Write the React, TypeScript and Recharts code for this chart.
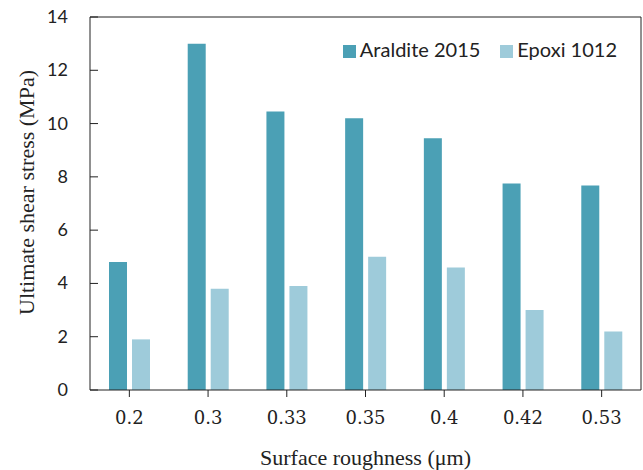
import React from 'react';
import { BarChart, Bar, XAxis, YAxis, Legend } from 'recharts';

const roughness = ['0.2', '0.3', '0.33', '0.35', '0.4', '0.42', '0.53'];
const araldite = [4.8, 13.0, 10.45, 10.2, 9.45, 7.75, 7.68];
const epoxi = [1.9, 3.8, 3.9, 5.0, 4.6, 3.0, 2.2];
const yTicks = [0, 2, 4, 6, 8, 10, 12, 14];

const data = roughness.map((r, i) => ({
  name: r,
  'Araldite 2015': araldite[i],
  'Epoxi 1012': epoxi[i],
}));

const INK = '#222';
const SERIF = '"Liberation Serif", "Times New Roman", serif';
// the top legend reserves its own height, so the top margin is reduced by it
const LEGEND_H = 24;

const YTick = (props: any) => {
  const { x, y, payload } = props;
  // tick line points into the plot
  return (
    <g>
      <line x1={x + 22} x2={x + 30} y1={y} y2={y} stroke={INK} strokeWidth={1} />
      <text x={x} y={y} dy={6} textAnchor="end" fill={INK} fontSize={18} fontFamily="Lato, sans-serif">
        {payload.value}
      </text>
    </g>
  );
};

const YTitle = (props: any) => {
  const { viewBox } = props;
  const cx = viewBox.x + 34;
  const cy = viewBox.y + viewBox.height / 2 - 11;
  return (
    <text x={cx} y={cy} transform={`rotate(-90, ${cx}, ${cy})`} textAnchor="middle" fill={INK} fontSize={22} fontFamily={SERIF}>
      Ultimate shear stress (MPa)
    </text>
  );
};

const App = () => (
  <div style={{ position: 'absolute', left: 0, top: 0, background: '#fff' }}>
    <BarChart
      width={643}
      height={470}
      data={data}
      margin={{ top: 16 - LEGEND_H, right: 1, left: 0, bottom: 0 }}
      barSize={18}
      barGap={5}
    >
      <XAxis
        dataKey="name"
        height={80}
        tickSize={7}
        tickMargin={14}
        stroke={INK}
        tick={{ fill: INK, fontSize: 18, fontFamily: '"DejaVu Serif", serif' }}
        label={{
          value: 'Surface roughness (μm)',
          position: 'insideBottom',
          offset: 5,
          style: { fill: INK, fontSize: 22, fontFamily: SERIF },
        }}
      />
      <XAxis xAxisId="top" orientation="top" dataKey="name" height={1} tick={false} tickLine={false} stroke={INK} />
      <YAxis
        domain={[0, 14]}
        ticks={yTicks}
        width={90}
        tickSize={0}
        tickMargin={22}
        stroke={INK}
        tick={<YTick />}
        label={(p: any) => <YTitle {...p} />}
      />
      <YAxis yAxisId="right" orientation="right" width={1} tick={false} tickLine={false} stroke={INK} domain={[0, 14]} />
      <Legend
        verticalAlign="top"
        align="right"
        layout="horizontal"
        iconType="square"
        iconSize={13}
        wrapperStyle={{
          top: 37,
          left: 'auto',
          right: 16,
          width: 'auto',
          height: LEGEND_H,
          lineHeight: `${LEGEND_H}px`,
          fontSize: 20,
          fontFamily: 'Lato, sans-serif',
        }}
        formatter={(v: string, _e: any, i: number) => (
          <span style={{ color: INK, marginRight: i === 0 ? 10 : 0 }}>{v}</span>
        )}
      />
      <Bar dataKey="Araldite 2015" fill="#4BA0B5" isAnimationActive={false} />
      <Bar dataKey="Epoxi 1012" fill="#9ECBDA" isAnimationActive={false} />
    </BarChart>
  </div>
);

export default App;
